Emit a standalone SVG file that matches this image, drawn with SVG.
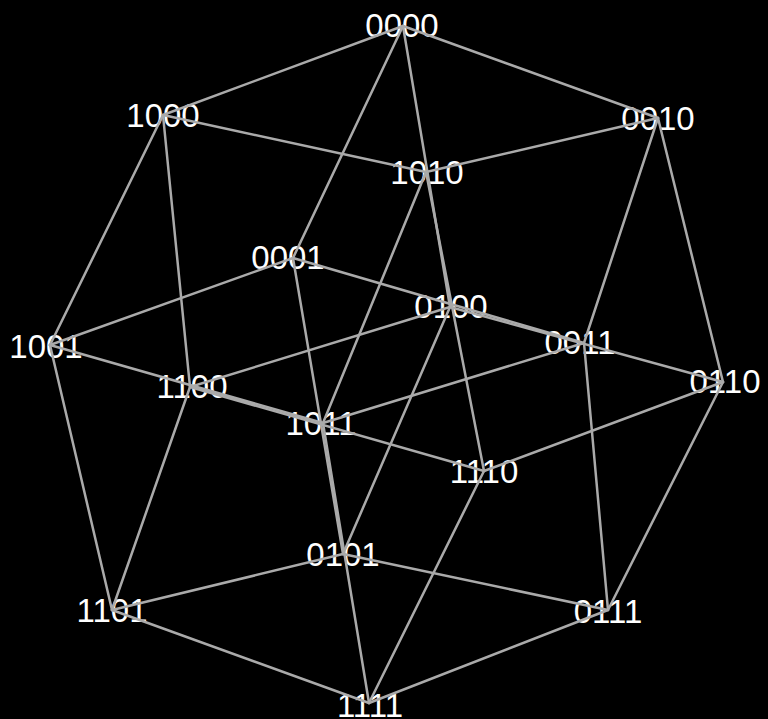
<svg xmlns="http://www.w3.org/2000/svg" width="768" height="719" viewBox="0 0 768 719">
<style>
.bg{fill:#000}
.n text{font-family:"Liberation Sans",Arial,sans-serif;font-size:33px;fill:#fff;text-anchor:middle}
.e line{stroke:#aaa;stroke-width:2.5;stroke-linecap:round}
</style>
<rect class="bg" x="0" y="0" width="768" height="719"/>
<g class="n">
<g id="n0000"><text x="402" y="37">0000</text></g>
<g id="n1000"><text x="163" y="127">1000</text></g>
<g id="n0010"><text x="658" y="130">0010</text></g>
<g id="n1010"><text x="427" y="184">1010</text></g>
<g id="n0001"><text x="288" y="269">0001</text></g>
<g id="n0100"><text x="451" y="318">0100</text></g>
<g id="n1001"><text x="46" y="358">1001</text></g>
<g id="n0011"><text x="580" y="354">0011</text></g>
<g id="n0110"><text x="725" y="393">0110</text></g>
<g id="n1100"><text x="192" y="398">1100</text></g>
<g id="n1011"><text x="321" y="435">1011</text></g>
<g id="n1110"><text x="484" y="483">1110</text></g>
<g id="n0101"><text x="343" y="566">0101</text></g>
<g id="n1101"><text x="112" y="622">1101</text></g>
<g id="n0111"><text x="608" y="623">0111</text></g>
<g id="n1111"><text x="370" y="717">1111</text></g>
</g>
<g class="e" id="connectors">
<line x1="403" y1="26" x2="163" y2="115"/>
<line x1="403" y1="26" x2="658" y2="118"/>
<line x1="403" y1="26" x2="293" y2="258"/>
<line x1="403" y1="26" x2="450" y2="307"/>
<line x1="163" y1="115" x2="426" y2="172"/>
<line x1="163" y1="115" x2="50" y2="345"/>
<line x1="163" y1="115" x2="190" y2="387"/>
<line x1="658" y1="118" x2="426" y2="172"/>
<line x1="658" y1="118" x2="723" y2="382"/>
<line x1="658" y1="118" x2="584" y2="343"/>
<line x1="426" y1="172" x2="323" y2="423"/>
<line x1="426" y1="172" x2="484" y2="471"/>
<line x1="293" y1="258" x2="50" y2="345"/>
<line x1="293" y1="258" x2="584" y2="343"/>
<line x1="293" y1="258" x2="343" y2="554"/>
<line x1="450" y1="307" x2="190" y2="387"/>
<line x1="450" y1="307" x2="723" y2="382"/>
<line x1="450" y1="307" x2="343" y2="554"/>
<line x1="50" y1="345" x2="323" y2="423"/>
<line x1="50" y1="345" x2="112" y2="610"/>
<line x1="584" y1="343" x2="323" y2="423"/>
<line x1="584" y1="343" x2="608" y2="610"/>
<line x1="723" y1="382" x2="484" y2="471"/>
<line x1="723" y1="382" x2="608" y2="610"/>
<line x1="190" y1="387" x2="484" y2="471"/>
<line x1="190" y1="387" x2="112" y2="610"/>
<line x1="323" y1="423" x2="369" y2="703"/>
<line x1="484" y1="471" x2="369" y2="703"/>
<line x1="343" y1="554" x2="112" y2="610"/>
<line x1="343" y1="554" x2="608" y2="610"/>
<line x1="112" y1="610" x2="369" y2="703"/>
<line x1="608" y1="610" x2="369" y2="703"/>
</g>
</svg>
